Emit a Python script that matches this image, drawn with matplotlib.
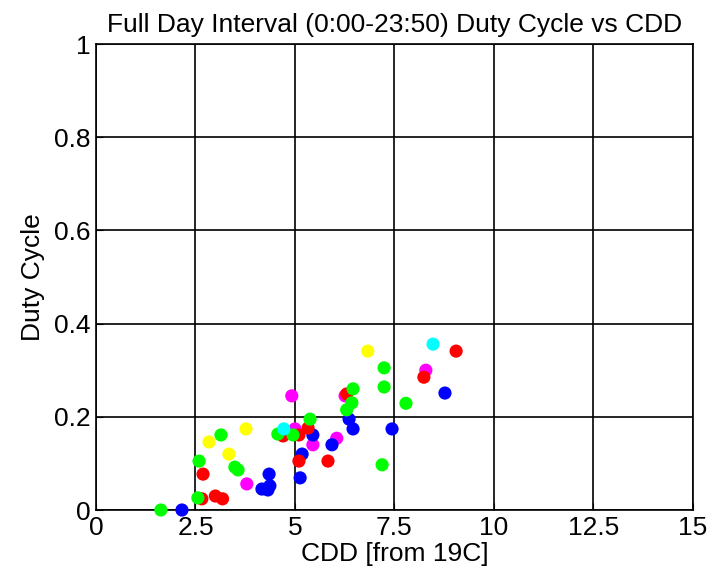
from matplotlib import pyplot as plt
from matplotlib.ticker import FuncFormatter

plt.rcParams['font.family'] = ['Liberation Sans', 'DejaVu Sans']

# CDD / duty-cycle points, grouped by marker colour
magenta_cdd = [4.92, 3.79, 5.00, 5.45, 6.05, 6.26, 8.29]
magenta_duty = [0.245, 0.056, 0.174, 0.140, 0.154, 0.245, 0.300]

blue_cdd = [2.16, 4.35, 4.17, 4.37, 4.32, 5.13, 5.18, 5.45, 5.93, 6.36, 6.46, 7.44, 8.77]
blue_duty = [0.000, 0.077, 0.045, 0.052, 0.043, 0.069, 0.120, 0.161, 0.140, 0.195, 0.174, 0.174, 0.251]

red_cdd = [2.66, 3.00, 3.18, 2.69, 4.70, 5.10, 5.10, 5.33, 5.83, 6.30, 8.24, 9.05]
red_duty = [0.024, 0.030, 0.024, 0.077, 0.159, 0.161, 0.105, 0.176, 0.105, 0.249, 0.285, 0.341]

green_cdd = [1.63, 2.56, 2.59, 3.14, 3.49, 3.57, 4.57, 4.95, 5.38, 6.46, 6.43, 6.30, 7.24, 7.24, 7.79, 7.19]
green_duty = [0.000, 0.026, 0.105, 0.161, 0.092, 0.086, 0.163, 0.161, 0.195, 0.260, 0.230, 0.215, 0.305, 0.264, 0.229, 0.097]

yellow_cdd = [2.84, 3.34, 3.77, 6.83]
yellow_duty = [0.146, 0.120, 0.174, 0.341]

cyan_cdd = [4.72, 8.47]
cyan_duty = [0.174, 0.356]

series = [
    (magenta_cdd, magenta_duty, '#ff00ff'),
    (blue_cdd, blue_duty, '#0000ff'),
    (red_cdd, red_duty, '#ff0000'),
    (green_cdd, green_duty, '#00ff00'),
    (yellow_cdd, yellow_duty, '#ffff00'),
    (cyan_cdd, cyan_duty, '#00ffff'),
]

xticks = [0, 2.5, 5, 7.5, 10, 12.5, 15]
yticks = [0, 0.2, 0.4, 0.6, 0.8, 1]

fig = plt.figure(figsize=(7.24, 5.77), dpi=100)
ax = fig.add_axes([0.1326, 0.1161, 0.957 - 0.1326, 0.9237 - 0.1161])

for x, y, c in series:
    ax.scatter(x, y, s=90, c=c, edgecolors='none', zorder=3, clip_on=False)

ax.set_xlim(0, 15)
ax.set_ylim(0, 1)
ax.set_xticks(xticks)
ax.set_yticks(yticks)
ax.xaxis.set_major_formatter(FuncFormatter(lambda v, p: f'{v:g}'))
ax.yaxis.set_major_formatter(FuncFormatter(lambda v, p: f'{v:g}'))
ax.grid(True, color='black', linewidth=1.2)
ax.set_axisbelow(True)
for s in ax.spines.values():
    s.set_color('black')
    s.set_linewidth(1.2)
ax.tick_params(direction='in', length=5, labelsize=19, pad=4)

ax.set_title('Full Day Interval (0:00-23:50) Duty Cycle vs CDD', fontsize=19, pad=9)
ax.set_xlabel('CDD [from 19C]', fontsize=19, labelpad=2)
ax.set_ylabel('Duty Cycle', fontsize=19, labelpad=6)

fig.savefig('out.png', dpi=100)
